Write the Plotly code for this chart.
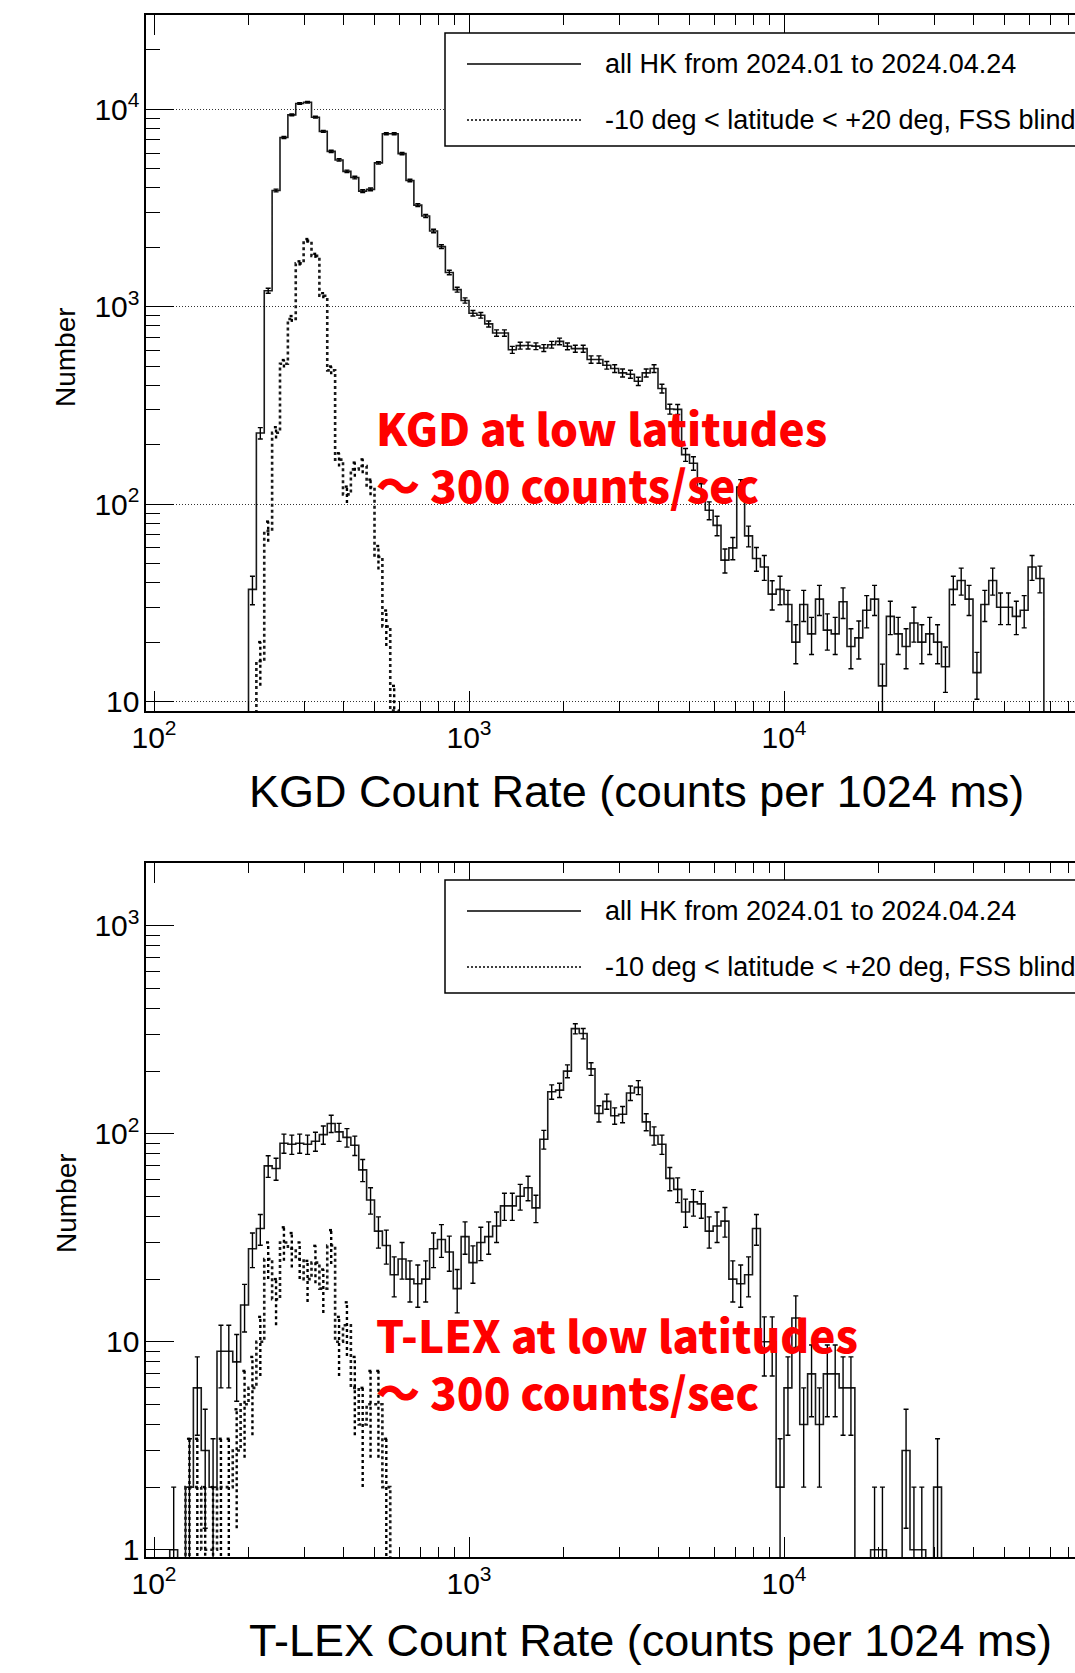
import numpy as np
import plotly.graph_objects as go

# ---------------- data ----------------
# histogram bins: 40 log bins per decade, bin k spans 10^(2+0.025k) .. 10^(2+0.025(k+1))
BIN_DEX = 0.025
LOG_ORIGIN = 2.0

kgd_all_start = 12
kgd_all = [37, 229, 1205, 3880, 7200, 9370, 10700, 10850, 9120, 7730,
           6120, 5540, 4850, 4510, 3850, 3930, 5350, 7520, 7520, 5960,
           4360, 3270, 2880, 2420, 2015, 1490, 1220, 1075, 927, 905,
           818, 736, 736, 605, 635, 636, 631, 618, 642, 667,
           630, 613, 613, 540, 540, 505, 486, 462, 455, 419,
           462, 486, 385, 303, 302, 178, 161, 116, 93, 78,
           52, 60, 122, 69, 53, 48, 35, 37, 31, 20,
           31, 22, 33, 23, 22, 32, 19, 21, 29, 33,
           12, 27, 22, 19, 25, 20, 22, 20, 15, 37,
           41, 33, 14, 31, 41, 30, 30, 27, 29, 48, 42]

kgd_low_start = 12
kgd_low = [0, 16, 73, 230, 514, 867, 1657, 2155, 1810, 1137,
           476, 168, 112, 150, 156, 122, 54, 24, 9]

tlex_all_start = 2
tlex_all = [1, 0, 2, 6, 3, 2, 9, 9, 8, 15,
            28, 35, 70, 68, 90, 89, 90, 89, 92, 99,
            112, 102, 96, 88, 67, 48, 34, 29, 21, 25,
            20, 19, 20, 28, 31, 27, 18, 32, 24, 30,
            32, 36, 45, 45, 50, 55, 44, 94, 159, 162,
            200, 320, 303, 205, 125, 143, 122, 124, 157, 167,
            114, 98, 89, 61, 54, 42, 47, 46, 34, 36,
            38, 20, 19, 21, 35, 10, 10, 2, 6, 13,
            4, 7, 4, 7, 7, 6, 6, 0, 0, 1,
            1, 0, 0, 3, 1, 1, 0, 2]

tlex_low_start = 4
tlex_low = [2, 2, 1, 1, 2, 2, 3, 5, 6, 10,
            25, 16, 30, 28, 25, 20, 24, 18, 29, 10,
            12, 6, 4, 5, 5, 2]

legend_labels = ["all HK from 2024.01 to 2024.04.24",
                 "-10 deg < latitude < +20 deg, FSS blind"]
x_titles = ["KGD Count Rate (counts per 1024 ms)",
            "T-LEX Count Rate (counts per 1024 ms)"]
y_title = "Number"
notes = [["KGD at low latitudes", "～ 300 counts/sec"],
         ["T-LEX at low latitudes", "～ 300 counts/sec"]]

# ---------------- layout geometry (pixels) ----------------
W, H = 1075, 1673
FLOOR = 1e-3
AXFONT = "Liberation Sans, Arial, Helvetica, sans-serif"
REDFONT = "Noto Sans CJK JP, Noto Sans, sans-serif"


def px(x):
    return x / W


def py(y):
    return 1 - y / H


def edges(start, n):
    k = np.arange(start, start + n + 1)
    return 10 ** (LOG_ORIGIN + BIN_DEX * k)


def centers(start, n):
    k = np.arange(start, start + n)
    return 10 ** (LOG_ORIGIN + BIN_DEX * (k + 0.5))


def step_trace(start, counts, xa, ya, dash):
    c = np.asarray(counts, float)
    e = edges(start, len(c))
    ys = np.where(c > 0, c, FLOOR)
    x = np.concatenate([[e[0]], e[:-1], [e[-1]]])
    y = np.concatenate([[FLOOR], ys, [FLOOR]])
    return go.Scatter(x=x, y=y, mode="lines", xaxis=xa, yaxis=ya,
                      line=dict(color="#1a1a1a", width=1.6 if dash == "solid" else 2.6,
                                shape="hv", dash=dash),
                      hoverinfo="skip", showlegend=False)


def err_trace_solid(start, counts, xa, ya):
    c = np.asarray(counts, float)
    xc = centers(start, len(c))
    m = c > 0
    return go.Scatter(x=xc[m], y=c[m], mode="markers", xaxis=xa, yaxis=ya,
                      marker=dict(size=1, color="rgba(0,0,0,0)"),
                      error_y=dict(type="data", array=np.sqrt(c[m]), visible=True,
                                   color="black", thickness=1.4, width=2.5),
                      hoverinfo="skip", showlegend=False)


def err_trace_dotted(start, counts, xa, ya):
    c = np.asarray(counts, float)
    xc = centers(start, len(c))
    capw = 10 ** 0.007
    xs, ys = [], []
    for xv, v in zip(xc, c):
        if v <= 0:
            continue
        s = np.sqrt(v)
        lo = max(v - s, FLOOR)
        xs += [xv, xv, None, xv / capw, xv * capw, None]
        ys += [lo, v + s, None, v + s, v + s, None]
    return go.Scatter(x=xs, y=ys, mode="lines", xaxis=xa, yaxis=ya,
                      line=dict(color="black", width=2.4, dash="dot"),
                      hoverinfo="skip", showlegend=False)


fig = go.Figure()
panels = [
    dict(xa="x", ya="y", all=(kgd_all_start, kgd_all), low=(kgd_low_start, kgd_low)),
    dict(xa="x2", ya="y2", all=(tlex_all_start, tlex_all), low=(tlex_low_start, tlex_low)),
]
for p in panels:
    fig.add_trace(step_trace(*p["all"], p["xa"], p["ya"], "solid"))
    fig.add_trace(err_trace_solid(*p["all"], p["xa"], p["ya"]))
    fig.add_trace(step_trace(*p["low"], p["xa"], p["ya"], "dot"))
    fig.add_trace(err_trace_dotted(*p["low"], p["xa"], p["ya"]))

# axis geometry
X_LEFT, X_DEC2, X_DECADE = 146, 154, 315
x_range = [2 - (X_DEC2 - X_LEFT) / X_DECADE, 2 + (W - X_DEC2) / X_DECADE]
x_domain = [px(X_LEFT), 1.0]

top_y = dict(top=15, bottom=711, ref_px=109.3, ref_log=4, dec=197.4)
bot_y = dict(top=863, bottom=1557, ref_px=1341.7, ref_log=1, dec=208.0)


def yrange(g):
    lo = g["ref_log"] - (g["bottom"] - g["ref_px"]) / g["dec"]
    hi = g["ref_log"] + (g["ref_px"] - g["top"]) / g["dec"]
    return [lo, hi]


def ydomain(g):
    return [py(g["bottom"]), py(g["top"])]


tickfont = dict(family=AXFONT, size=24, color="black")
common_x = dict(type="log", range=x_range, domain=x_domain, showline=True,
                linecolor="black", linewidth=1.5, mirror="ticks", ticks="inside",
                ticklen=20, tickwidth=1.4, tickcolor="black", dtick=1,
                exponentformat="power", showgrid=False, zeroline=False,
                tickfont=tickfont, automargin=False,
                minor=dict(ticks="inside", ticklen=10, tickwidth=1.2,
                           tickcolor="black", dtick="D1", showgrid=False))
common_y = dict(type="log", showline=True, linecolor="black", linewidth=1.5,
                mirror=False, ticks="inside", ticklen=28, tickwidth=1.4,
                tickcolor="black", dtick=1, exponentformat="power", zeroline=False,
                tickfont=tickfont, automargin=False,
                minor=dict(ticks="inside", ticklen=14, tickwidth=1.2,
                           tickcolor="black", dtick="D1", showgrid=False))

fig.update_layout(
    width=W, height=H, margin=dict(l=0, r=0, t=0, b=0),
    paper_bgcolor="white", plot_bgcolor="white", showlegend=False,
    xaxis=dict(common_x, anchor="y"),
    yaxis=dict(common_y, anchor="x", range=yrange(top_y), domain=ydomain(top_y),
               showgrid=True, gridcolor="#333333", gridwidth=1, griddash="1px,2px"),
    xaxis2=dict(common_x, anchor="y2"),
    yaxis2=dict(common_y, anchor="x2", range=yrange(bot_y), domain=ydomain(bot_y),
                showgrid=False),
)

shapes, annos = [], []
for i, box_top in enumerate([33, 880]):
    shapes.append(dict(type="rect", xref="paper", yref="paper",
                       x0=px(445), x1=px(W + 40), y0=py(box_top + 113), y1=py(box_top),
                       line=dict(color="black", width=1.5), fillcolor="white", layer="above"))
    for j, (dy, dash) in enumerate([(31, "solid"), (87, "2px,2px")]):
        shapes.append(dict(type="line", xref="paper", yref="paper",
                           x0=px(467), x1=px(581), y0=py(box_top + dy), y1=py(box_top + dy),
                           line=dict(color="black", width=1.3, dash=dash), layer="above"))
        annos.append(dict(xref="paper", yref="paper", x=px(603), y=py(box_top + dy),
                          xanchor="left", yanchor="middle", showarrow=False,
                          text=legend_labels[j],
                          font=dict(family=AXFONT, size=27, color="black")))

for i, (ty, ny) in enumerate([(791, 357), (1640, 1203)]):
    annos.append(dict(xref="paper", yref="paper", x=px(247), y=py(ty),
                      xanchor="left", yanchor="middle", showarrow=False,
                      text=x_titles[i], font=dict(family=AXFONT, size=45, color="black")))
    annos.append(dict(xref="paper", yref="paper", x=px(66), y=py(ny),
                      xanchor="center", yanchor="middle", showarrow=False, textangle=-90,
                      text=y_title, font=dict(family=AXFONT, size=28, color="black")))

for i, yc in enumerate([455, 1362]):
    annos.append(dict(xref="paper", yref="paper", x=px(374), y=py(yc),
                      xanchor="left", yanchor="middle", align="left", showarrow=False,
                      text="<br>".join(notes[i]),
                      font=dict(family=REDFONT, size=44, color="#ff0000", weight=900)))

fig.update_layout(shapes=shapes, annotations=annos)
fig.write_html("out.html")
